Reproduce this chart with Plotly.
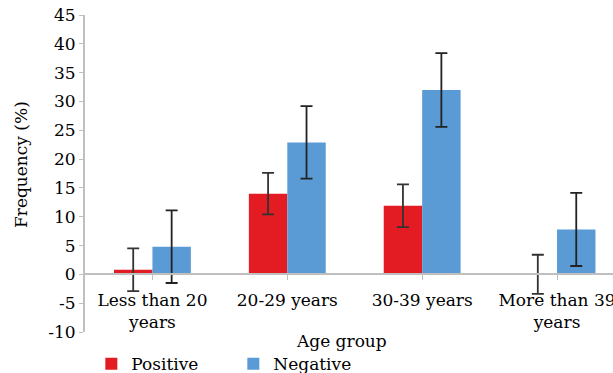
import plotly.graph_objects as go

categories = ["Less than 20<br>years", "20-29 years", "30-39 years", "More than 39<br>years"]
positive = [0.8, 14.0, 11.9, 0.0]
positive_err = [3.7, 3.6, 3.7, 3.4]
negative = [4.8, 22.9, 32.0, 7.8]
negative_err = [6.3, 6.3, 6.4, 6.35]
y_ticks = [-10, -5, 0, 5, 10, 15, 20, 25, 30, 35, 40, 45]
y_tick_labels = ["-10", "-5", "0", "5", "10", "15", "20", "25", "30", "35", "40", "45"]

FONT = "DejaVu Serif"
FS = 17
W, H = 613, 373
ML, MR, MT, MB = 85, 0, 15, 41
y_min, y_max = -10, 45
PW, PH = W - ML - MR, H - MT - MB

fig = go.Figure()
fig.add_trace(go.Bar(
    x=list(range(len(categories))), y=positive, name="Positive",
    marker=dict(color="#e31b23", line=dict(width=0)),
    error_y=dict(type="data", array=positive_err, visible=True,
                 color="#333333", thickness=1.8, width=6),
))
fig.add_trace(go.Bar(
    x=list(range(len(categories))), y=negative, name="Negative",
    marker=dict(color="#5b9bd5", line=dict(width=0)),
    error_y=dict(type="data", array=negative_err, visible=True,
                 color="#222222", thickness=1.8, width=6),
))

zero_pos = (0 - y_min) / (y_max - y_min)

fig.update_layout(
    width=W, height=H,
    margin=dict(l=ML, r=MR, t=MT, b=MB, pad=0, autoexpand=False),
    paper_bgcolor="white", plot_bgcolor="white",
    font=dict(family=FONT, size=FS, color="black"),
    barmode="group", bargap=0.43, bargroupgap=0,
    showlegend=True,
    legend=dict(orientation="h", x=0.012, y=-0.045, xanchor="left", yanchor="top",
                font=dict(size=FS, family=FONT), entrywidth=97,
                itemwidth=30, tracegroupgap=0, bgcolor="rgba(0,0,0,0)"),
    xaxis=dict(
        tickmode="array", tickvals=list(range(len(categories))), ticktext=categories,
        range=[-0.5, 3.415], anchor="free", position=zero_pos,
        showline=True, linecolor="#bfbfbf", linewidth=2,
        ticks="outside", tickson="boundaries", ticklen=5, tickcolor="#bfbfbf",
        showgrid=False, zeroline=False, tickfont=dict(size=FS, family=FONT),
        ticklabelstandoff=5, ticklabeloverflow="allow", automargin=False,
    ),
    yaxis=dict(
        range=[y_min, y_max], tickmode="array", tickvals=y_ticks, ticktext=y_tick_labels,
        showline=True, linecolor="#bfbfbf", linewidth=2,
        ticks="outside", ticklen=4, tickcolor="#bfbfbf",
        showgrid=False, zeroline=False, tickfont=dict(size=FS, family=FONT),
        automargin=False,
    ),
    annotations=[
        dict(text="Age group", xref="paper", yref="paper",
             x=(341 - ML) / PW, y=(H - MB - 341) / PH,
             xanchor="center", yanchor="middle", showarrow=False,
             font=dict(size=FS, family=FONT)),
        dict(text="Frequency (%)", xref="paper", yref="paper",
             x=(21 - ML) / PW, y=(H - MB - 165) / PH, textangle=-90,
             xanchor="center", yanchor="middle", showarrow=False,
             font=dict(size=FS, family=FONT)),
    ],
)

fig.write_html("out.html", config={"displayModeBar": False},
               post_script="document.body.style.margin='0px';document.body.style.overflow='hidden';")
